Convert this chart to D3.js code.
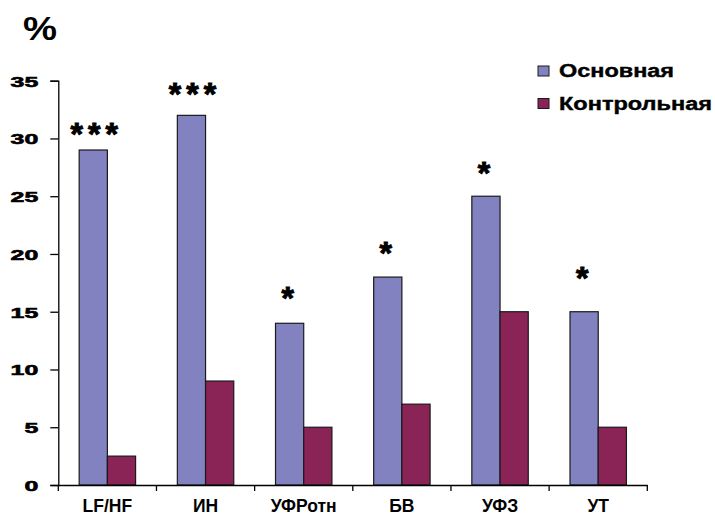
<!DOCTYPE html>
<html>
<head>
<meta charset="utf-8">
<script src="https://cdn.jsdelivr.net/npm/d3@7"></script>
<style>
  html, body { margin: 0; padding: 0; background: #fff; }
  svg { display: block; }
  text { font-family: "Liberation Sans", Arial, sans-serif; font-weight: bold; fill: #000; }
</style>
</head>
<body>
<svg id="chart" width="715" height="516"></svg>
<script>
const categories = ["LF/HF", "ИН", "УФРотн", "БВ", "УФЗ", "УТ"];
const seriesNames = ["Основная", "Контрольная"];
const mainValues = [29, 32, 14, 18, 25, 15];
const controlValues = [2.5, 9, 5, 7, 15, 5];
const significance = ["***", "***", "*", "*", "*", "*"];
const markLevels = [30.9, 34.4, 16.7, 20.6, 27.5, 18.4];
const yTicks = [0, 5, 10, 15, 20, 25, 30, 35];
const unitLabel = "%";

const colors = ["#8282C0", "#8A2356"];
const svg = d3.select("#chart");

const x0 = d3.scaleBand().domain(categories).range([58.3, 647.3]).paddingInner(0).paddingOuter(0);
const x1 = d3.scaleBand().domain(seriesNames).range([0, x0.bandwidth()]).paddingInner(0).paddingOuter(0.74);
const y = d3.scaleLinear().domain([0, 35]).range([485, 80.7]);
const color = d3.scaleOrdinal().domain(seriesNames).range(colors);

const rows = categories.map((c, i) => ({ cat: c, vals: [mainValues[i], controlValues[i]] }));

// bars
const groups = svg.append("g").selectAll("g").data(rows).join("g")
  .attr("transform", d => `translate(${x0(d.cat)},0)`);
groups.selectAll("rect").data(d => d.vals.map((v, k) => ({ s: seriesNames[k], v })))
  .join("rect")
  .attr("x", d => x1(d.s))
  .attr("width", x1.bandwidth())
  .attr("y", d => y(d.v))
  .attr("height", d => y(0) - y(d.v))
  .attr("fill", d => color(d.s))
  .attr("stroke", "#1a1a1a")
  .attr("stroke-width", 1.2);

// y axis
const yAxis = svg.append("g").attr("transform", "translate(58.3,0)")
  .call(d3.axisLeft(y).tickValues(yTicks).tickSize(8).tickPadding(0).tickFormat(d3.format("d")));
yAxis.select(".domain").attr("stroke", "#000").attr("stroke-width", 1.3);
yAxis.selectAll(".tick line").attr("stroke", "#000").attr("stroke-width", 1.3);
yAxis.selectAll(".tick text").remove();
yAxis.selectAll(".tick").append("text")
  .attr("text-anchor", "end")
  .attr("font-size", 15)
  .attr("stroke", "#000").attr("stroke-width", 0.6)
  .attr("transform", "translate(-20,5.5) scale(1.66,1)")
  .text(d => d);

// x axis
const xAxis = svg.append("g").attr("transform", `translate(0,${y(0)})`)
  .call(d3.axisBottom(x0).tickSize(0).tickFormat(""));
xAxis.select(".domain").attr("stroke", "#000").attr("stroke-width", 1.3);
xAxis.selectAll(".tick").remove();
const edges = categories.map(c => x0(c)).concat([x0(categories[categories.length - 1]) + x0.bandwidth()]);
xAxis.selectAll("line.edge").data(edges).join("line")
  .attr("class", "edge")
  .attr("x1", d => d).attr("x2", d => d)
  .attr("y1", 0).attr("y2", 6)
  .attr("stroke", "#000").attr("stroke-width", 1.3);
xAxis.selectAll("text.cat").data(categories).join("text")
  .attr("class", "cat")
  .attr("x", d => x0(d) + x0.bandwidth() / 2)
  .attr("y", 27)
  .attr("text-anchor", "middle")
  .attr("font-size", 17.5)
  .text(d => d);

// significance marks
const markGroups = svg.append("g").selectAll("g").data(rows.map((r, i) => ({ cat: r.cat, sig: significance[i], lvl: markLevels[i] })))
  .join("g");
markGroups.each(function(d) {
  const cx = x0(d.cat) + x1(seriesNames[0]) + x1.bandwidth() / 2 + (d.sig.length > 1 ? 1 : -2);
  const n = d.sig.length;
  const stars = d3.range(n).map(k => cx + (k - (n - 1) / 2) * 17.5);
  d3.select(this).selectAll("text").data(stars).join("text")
    .attr("x", s => s)
    .attr("y", y(d.lvl) + 17)
    .attr("text-anchor", "middle")
    .attr("font-size", 32)
    .attr("stroke", "#000").attr("stroke-width", 1)
    .text("*");
});

// unit label
svg.append("text")
  .attr("x", 23).attr("y", 40)
  .attr("font-size", 34)
  .attr("textLength", 34).attr("lengthAdjust", "spacingAndGlyphs")
  .text(unitLabel);

// legend
const legend = svg.append("g");
const legendLengths = [115, 153];
seriesNames.forEach((name, i) => {
  const yy = 66 + i * 32.5;
  legend.append("rect")
    .attr("x", 538).attr("y", yy).attr("width", 11).attr("height", 10)
    .attr("fill", color(name)).attr("stroke", "#1a1a1a").attr("stroke-width", 1);
  legend.append("text")
    .attr("x", 559).attr("y", yy + 11)
    .attr("font-size", 18)
    .attr("stroke", "#000").attr("stroke-width", 0.4)
    .attr("textLength", legendLengths[i]).attr("lengthAdjust", "spacingAndGlyphs")
    .text(name);
});
</script>
</body>
</html>
